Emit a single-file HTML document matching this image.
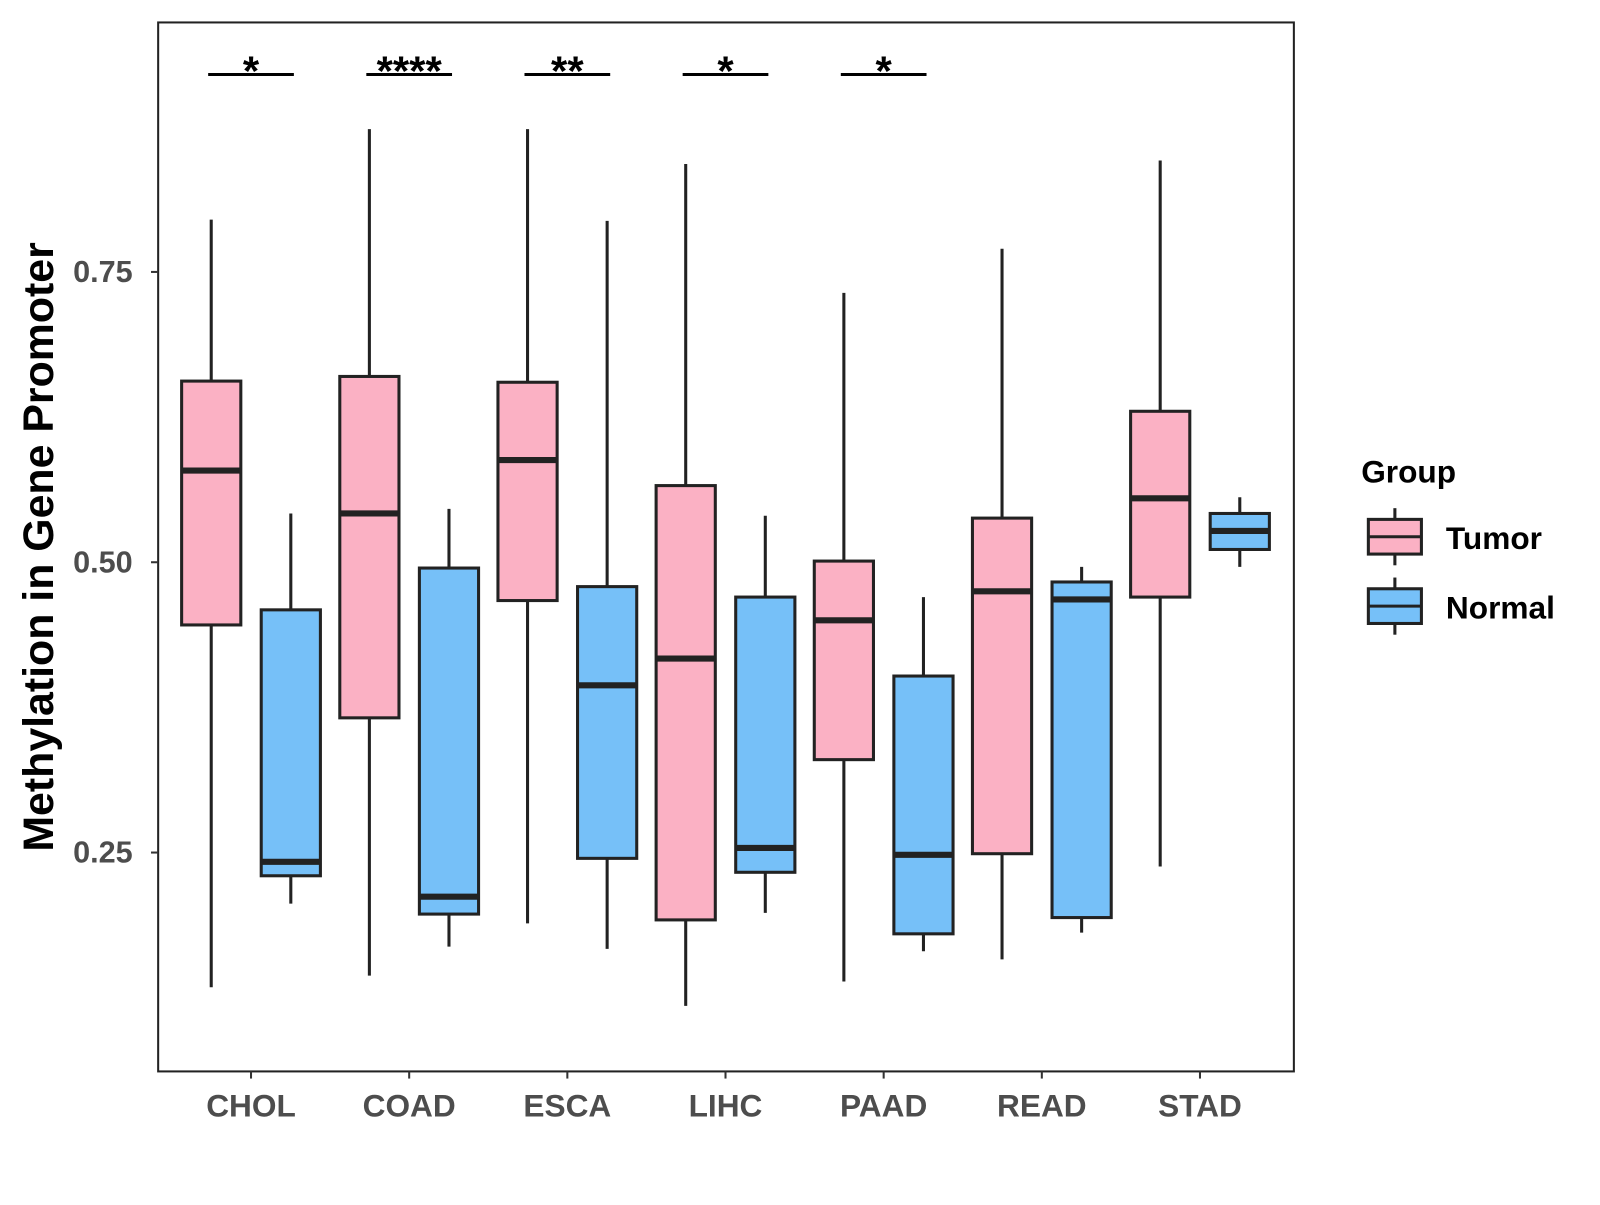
<!DOCTYPE html>
<html><head><meta charset="utf-8"><style>
body{margin:0;background:#fff;}
svg text{font-family:"Liberation Sans",Arial,sans-serif;font-weight:bold;}
</style></head><body>
<svg id="chart" width="1600" height="1200" xmlns="http://www.w3.org/2000/svg">
<g transform="scale(1.0204)">
<rect x="155" y="22" width="1113" height="1028" fill="#fff" stroke="#222" stroke-width="2"/>
<g id="marks"></g>
<text x="52" y="536" font-size="42" text-anchor="middle" transform="rotate(-90 52 536)">Methylation in Gene Promoter</text>
<g>
<text x="1334" y="473" font-size="31">Group</text>
<g>
<line x1="1367" y1="498" x2="1367" y2="554" stroke="#222" stroke-width="3"/>
<rect x="1341" y="509" width="52" height="34" fill="#FBB1C4" stroke="#222" stroke-width="3"/>
<line x1="1341" y1="526" x2="1393" y2="526" stroke="#222" stroke-width="3"/>
<text x="1417" y="538" font-size="31">Tumor</text></g>
<g>
<line x1="1367" y1="566" x2="1367" y2="622" stroke="#222" stroke-width="3"/>
<rect x="1341" y="577" width="52" height="34" fill="#76C0F8" stroke="#222" stroke-width="3"/>
<line x1="1341" y1="594" x2="1393" y2="594" stroke="#222" stroke-width="3"/>
<text x="1417" y="606" font-size="31">Normal</text></g>
</g>
</g>
</svg>
<script>
const categories=["CHOL","COAD","ESCA","LIHC","PAAD","READ","STAD"];
// [min, q1, median, q3, max]
const tumorStats=[[0.134,0.446,0.579,0.656,0.795],[0.144,0.366,0.542,0.660,0.873],[0.189,0.467,0.588,0.655,0.873],[0.118,0.192,0.417,0.566,0.843],[0.139,0.330,0.450,0.501,0.732],[0.158,0.249,0.475,0.538,0.770],[0.238,0.470,0.555,0.630,0.846]];
const normalStats=[[0.206,0.230,0.242,0.459,0.542],[0.169,0.197,0.212,0.495,0.546],[0.167,0.245,0.394,0.479,0.794],[0.198,0.233,0.254,0.470,0.540],[0.165,0.180,0.248,0.402,0.470],[0.181,0.194,0.468,0.483,0.496],[0.496,0.511,0.527,0.542,0.556]];
const signif=["*","****","**","*","*","",""];
const yTicks=[0.25,0.5,0.75];
const yTickLabels=["0.25","0.50","0.75"];
const NS="http://www.w3.org/2000/svg";
const g=document.getElementById('marks');
function y(v){return 551-(v-0.5)*1138;}
function x(i){return 246+i*155;}
function el(t,a){const e=document.createElementNS(NS,t);for(const k in a)e.setAttribute(k,a[k]);g.appendChild(e);return e;}
yTicks.forEach((t,i)=>{
 const l=el('line',{x1:148,x2:155,y1:y(t),y2:y(t),stroke:'#333','stroke-width':2});
 
 
 const tx=el('text',{x:130,y:y(t)+10,'font-size':30,'text-anchor':'end',fill:'#4d4d4d'});
 tx.textContent=yTickLabels[i];
 
 
});
function box(s,cx,fill,name){
 const w=58;
 const a=el('line',{x1:cx,x2:cx,y1:y(s[4]),y2:y(s[0]),stroke:'#222','stroke-width':3});
 
 
 const r=el('rect',{x:cx-w/2,y:y(s[3]),width:w,height:y(s[1])-y(s[3]),fill:fill,stroke:'#222','stroke-width':3});
 
 
 const m=el('line',{x1:cx-w/2,x2:cx+w/2,y1:y(s[2]),y2:y(s[2]),stroke:'#222','stroke-width':6});
 
 
}
categories.forEach((c,i)=>{
 box(tumorStats[i],x(i)-39,'#FBB1C4','tumor-'+c.toLowerCase());
 box(normalStats[i],x(i)+39,'#76C0F8','normal-'+c.toLowerCase());
 const t=el('line',{x1:x(i),x2:x(i),y1:1050,y2:1057,stroke:'#333','stroke-width':2});
 
 
 const lb=el('text',{x:x(i),y:1094,'font-size':31,'text-anchor':'middle',fill:'#4d4d4d'});
 lb.textContent=c;
 
 
 if(signif[i]){
  const b=el('line',{x1:x(i)-42,x2:x(i)+42,y1:73,y2:73,stroke:'#000','stroke-width':3});
  
  
  const st=el('text',{x:x(i),y:84,'font-size':41,'text-anchor':'middle'});
  st.textContent=signif[i];
  
  
 }
});
</script>
</body></html>
